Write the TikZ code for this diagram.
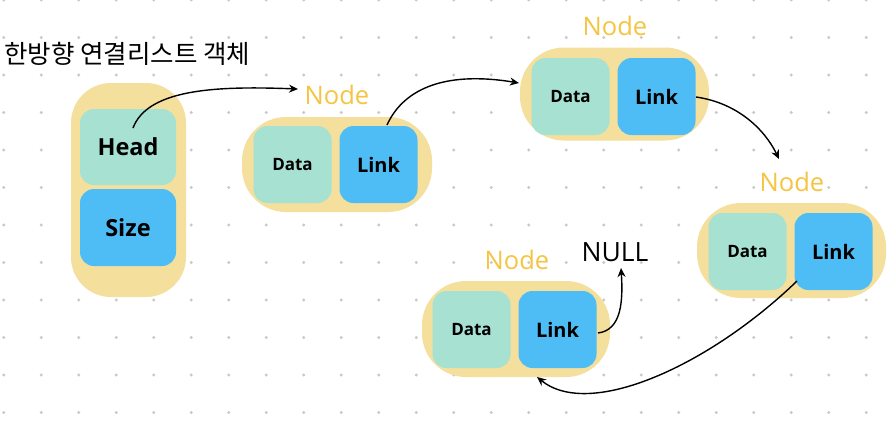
\documentclass[tikz,border=0pt]{standalone}
\usepackage{fontspec}
\setmainfont{Open Sans}
\newfontfamily\krfont{Noto Sans CJK KR}
\usetikzlibrary{arrows.meta}
\definecolor{shell}{HTML}{F4DF9C}
\definecolor{datac}{HTML}{A7E1D1}
\definecolor{linkc}{HTML}{4FBDF5}
\definecolor{labelc}{HTML}{F5C542}
\definecolor{dotc}{HTML}{C8C8C8}
\tikzset{
  outerbox/.style={fill=shell, rounded corners=#1, inner sep=0pt},
  innerbox/.style={rounded corners=14pt, inner sep=0pt, minimum width=78pt, minimum height=77pt, font=\bfseries\fontsize{17}{17}\selectfont},
  databox/.style={innerbox, fill=datac},
  linkbox/.style={innerbox, fill=linkc, font=\bfseries\fontsize{20}{20}\selectfont},
  nodelabel/.style={text=labelc, font=\fontsize{25.5}{25.5}\selectfont, inner sep=0pt},
  conn/.style={line width=1.4pt, -{Stealth[length=9pt,width=8pt]}},
}
\begin{document}
\begin{tikzpicture}[x=1pt,y=-1pt]
\useasboundingbox (0,0) rectangle (896,424);
\fill[white] (0,0) rectangle (896,424);
\foreach \i in {0,...,23}{
  \foreach \j in {0,...,11}{
    \fill[dotc] (3.75+37.5*\i, 37.5*\j) circle (1.6);
  }
}
% title
\node[anchor=west, inner sep=0pt, font=\krfont\fontsize{25.5}{25.5}\selectfont] (title) at (4,54) {한방향 연결리스트 객체};
% list object
\node[outerbox=40pt, minimum width=115pt, minimum height=214pt] (obj) at (128.5,190) {};
\node[innerbox, fill=datac, minimum width=96pt, minimum height=76pt, font=\bfseries\fontsize{23.5}{23.5}\selectfont] (head) at (128,147) {Head};
\node[innerbox, fill=linkc, minimum width=96pt, minimum height=77pt, font=\bfseries\fontsize{23.5}{23.5}\selectfont] (size) at (128,227.5) {Size};
% node 1
\node[outerbox=44pt, minimum width=190pt, minimum height=95pt] (n1) at (337,164.5) {};
\node[databox] (d1) at (292.5,164.5) {Data};
\node[linkbox] (l1) at (378.5,164.5) {Link};
\node[nodelabel] (t1) at (337,95) {Node};
% node 2
\node[outerbox=44pt, minimum width=189pt, minimum height=93pt] (n2) at (614.5,94) {};
\node[databox] (d2) at (570.5,96.5) {Data};
\node[linkbox] (l2) at (656.5,96.5) {Link};
\node[nodelabel] (t2) at (615,26) {Node};
% node 3
\node[outerbox=44pt, minimum width=189pt, minimum height=95pt] (n3) at (791.5,250.5) {};
\node[databox] (d3) at (747.5,251.5) {Data};
\node[linkbox] (l3) at (833.5,251.5) {Link};
\node[nodelabel] (t3) at (792,182) {Node};
% node 4
\node[outerbox=44pt, minimum width=188pt, minimum height=96pt] (n4) at (516,329) {};
\node[databox] (d4) at (471.5,329.5) {Data};
\node[linkbox] (l4) at (557.5,329.5) {Link};
\node[nodelabel] (t4) at (517,260) {Node};
\node[inner sep=0pt, font=\fontsize{26.5}{26.5}\selectfont] (null) at (615,252) {NULL};
% connectors
\coordinate (s1) at (133,128);
\coordinate (e1) at (298,89);
\coordinate (s2) at (387,125);
\coordinate (e2) at (519,83);
\coordinate (s3) at (696,97);
\coordinate (e3) at (779,159);
\coordinate (s4) at (797,281);
\coordinate (e4) at (537,377);
\coordinate (s5) at (598,333);
\coordinate (e5) at (621,268);
\draw[conn] (s1) .. controls (148,88) and (220,86) .. (e1);
\draw[conn] (s2) .. controls (402,92) and (440,70) .. (e2);
\draw[conn] (s3) .. controls (738,103) and (765,130) .. (e3);
\draw[conn] (s4) .. controls (710,365) and (590,420) .. (e4);
\draw[conn] (s5) .. controls (622,330) and (623,300) .. (e5);
\end{tikzpicture}
\end{document}
